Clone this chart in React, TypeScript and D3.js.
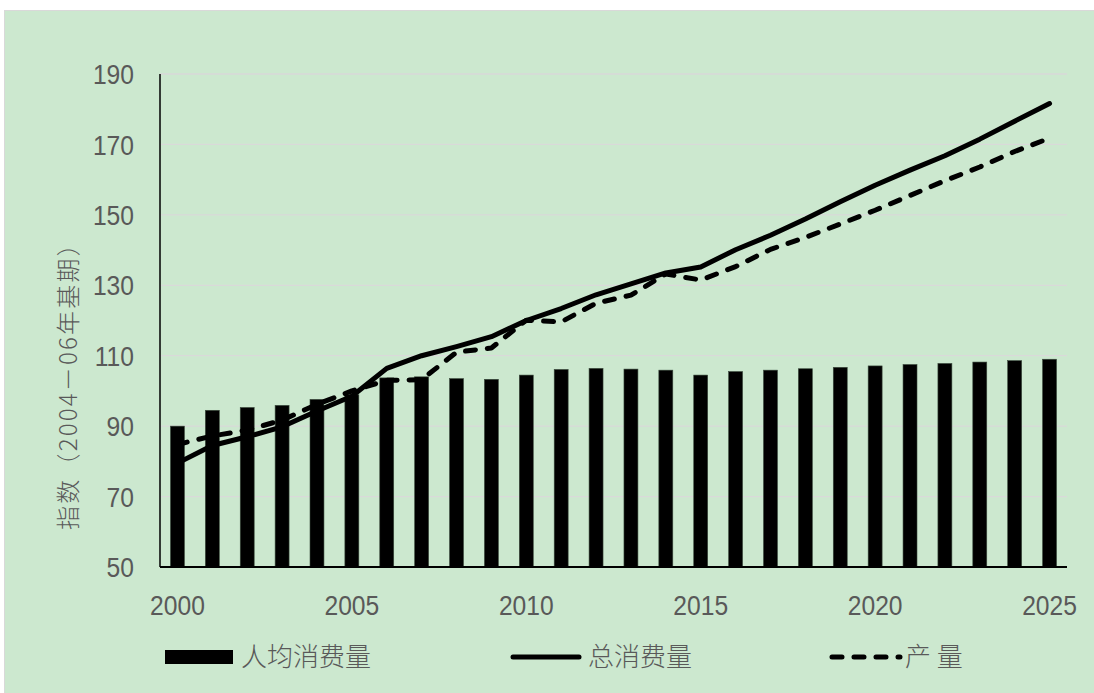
import React from "react";
import * as d3 from "d3";

const years = d3.range(2000, 2026).map(String);
const perCapita = [90.0, 94.5, 95.3, 95.9, 97.6, 98.9, 103.7, 104.0, 103.5, 103.3, 104.5, 106.1, 106.4, 106.2, 105.9, 104.5, 105.5, 105.9, 106.3, 106.7, 107.1, 107.5, 107.8, 108.2, 108.6, 109.0];
const totalConsumption = [79.5, 84.5, 87.0, 89.8, 94.3, 98.5, 106.4, 110.0, 112.6, 115.4, 120.0, 123.4, 127.3, 130.4, 133.5, 135.2, 140.1, 144.2, 148.8, 153.7, 158.4, 162.7, 166.8, 171.5, 176.6, 181.6];
const production = [84.8, 87.2, 88.9, 91.7, 96.2, 100.0, 103.0, 103.2, 111.0, 112.2, 120.1, 119.6, 124.9, 127.2, 133.2, 131.5, 135.3, 140.2, 143.6, 147.4, 151.3, 155.5, 159.7, 163.6, 168.0, 171.8];
const yTicks = [50, 70, 90, 110, 130, 150, 170, 190];
const xTickLabels = ["2000", "2005", "2010", "2015", "2020", "2025"];
const yAxisTitle = "指数（2004－06年基期）";
const legendLabels = ["人均消费量", "总消费量", "产 量"];

const W = 1094;
const H = 693;
const numFont = "'Liberation Sans', Arial, sans-serif";
const cjkFont = "'Noto Sans CJK SC', sans-serif";
const gray = "#595959";
const dash = "10 12";

export default function App() {
  const x = d3.scaleBand<string>().domain(years).range([160, 1067]).paddingInner(0.6).paddingOuter(0.3);
  const y = d3.scaleLinear().domain([50, 190]).range([567, 74]);
  const cx = (i: number) => (x(years[i]) as number) + x.bandwidth() / 2;
  const line = d3.line<number>().x((_, i) => cx(i)).y((d) => y(d));

  return (
    <svg width={W} height={H} style={{ position: "absolute", left: 0, top: 0 }}>
      <rect x={0} y={0} width={W} height={H} fill="#ffffff" />
      <rect x={4.5} y={10.5} width={W} height={H} fill="#CCE8CF" stroke="#D9D9D9" strokeWidth={1} />
      {yTicks.map((t) => (
        <line key={"g" + t} x1={160} x2={1067} y1={y(t)} y2={y(t)} stroke="#D9D9D9" strokeWidth={1.3} />
      ))}
      {yTicks.map((t) => (
        <text key={"yt" + t} transform={`translate(134,${y(t)}) scale(0.88,1)`} dy="0.36em" textAnchor="end" fontFamily={numFont} fontSize={28} fill={gray}>
          {t}
        </text>
      ))}
      {years.map((yr, i) => (
        <rect key={"b" + yr} x={x(yr)} y={y(perCapita[i])} width={x.bandwidth()} height={y(50) - y(perCapita[i])} fill="#000" stroke="#3a4a3c" strokeWidth={0.6} />
      ))}
      <path d={line(totalConsumption) || ""} fill="none" stroke="#000" strokeWidth={5} strokeLinejoin="round" strokeLinecap="round" />
      <path d={line(production) || ""} fill="none" stroke="#000" strokeWidth={5} strokeLinejoin="round" strokeLinecap="round" strokeDasharray={dash} />
      <line x1={160} x2={160} y1={74} y2={567} stroke="#000" strokeWidth={1.5} />
      <line x1={160} x2={1067} y1={567} y2={567} stroke="#000" strokeWidth={1.8} />
      {xTickLabels.map((lab) => {
        const i = years.indexOf(lab);
        return (
          <text key={"xt" + lab} transform={`translate(${cx(i)},605) scale(0.88,1)`} dy="0.36em" textAnchor="middle" fontFamily={numFont} fontSize={28} fill={gray}>
            {lab}
          </text>
        );
      })}
      <text transform={`translate(68,380) rotate(-90)`} textAnchor="middle" dy="0.36em" fontFamily={cjkFont} fontWeight={300} fontSize={24} letterSpacing={2.2} fill={gray}>
        {yAxisTitle}
      </text>
      {/* legend */}
      <rect x={165} y={650} width={68} height={14} fill="#000" />
      <text x={241} y={657} dy="0.36em" fontFamily={cjkFont} fontWeight={300} fontSize={26} fill={gray}>{legendLabels[0]}</text>
      <line x1={513} x2={579} y1={657} y2={657} stroke="#000" strokeWidth={5} strokeLinecap="round" />
      <text x={588} y={657} dy="0.36em" fontFamily={cjkFont} fontWeight={300} fontSize={26} fill={gray}>{legendLabels[1]}</text>
      <line x1={832} x2={900} y1={657} y2={657} stroke="#000" strokeWidth={5} strokeLinecap="round" strokeDasharray={dash} />
      <text x={905} y={657} dy="0.36em" fontFamily={cjkFont} fontWeight={300} fontSize={26} fill={gray}>{legendLabels[2]}</text>
    </svg>
  );
}
